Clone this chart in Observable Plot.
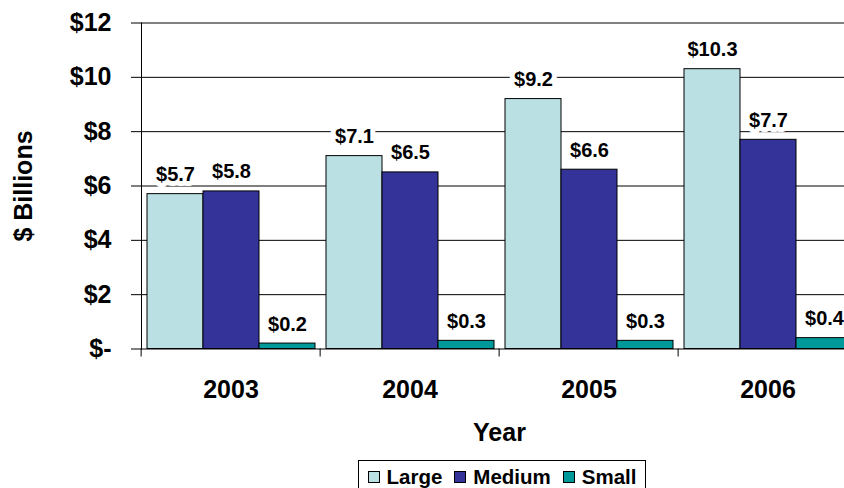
<!DOCTYPE html>
<html><head><meta charset="utf-8">
<script src="https://cdn.jsdelivr.net/npm/d3@7"></script>
<script src="https://cdn.jsdelivr.net/npm/@observablehq/plot@0.6"></script>
<style>
html,body{margin:0;padding:0;background:#fff;overflow:hidden;}
#wrap{position:relative;width:844px;height:488px;overflow:hidden;background:#fff;}
#chart svg{max-width:none;}
#legend{position:absolute;left:358px;top:460px;width:288px;height:40px;box-sizing:border-box;border:1px solid #000;
  font-family:'Liberation Sans',Arial,Helvetica,sans-serif;font-weight:bold;font-size:20.5px;line-height:20px;color:#000;
  display:flex;align-items:flex-start;justify-content:center;gap:12px;padding-top:6px;}
#legend .item{display:flex;align-items:center;gap:7px;}
#legend .sw{display:inline-block;width:12px;height:12px;box-sizing:border-box;border:1px solid #000;}
</style></head>
<body><div id="wrap"><div id="chart"></div><div id="legend"></div></div>
<script>
const years = ["2003", "2004", "2005", "2006"];
const sizes = ["Large", "Medium", "Small"];
const large = [5.7, 7.1, 9.2, 10.3];
const medium = [5.8, 6.5, 6.6, 7.7];
const small = [0.2, 0.3, 0.3, 0.4];
const colors = ["#BBE0E3", "#333399", "#009999"];
const yTicks = [0, 2, 4, 6, 8, 10, 12];
const yTickLabels = ["$-", "$2", "$4", "$6", "$8", "$10", "$12"];

const series = [large, medium, small];
const data = years.flatMap((year, i) => sizes.map((size, j) => ({year, size, value: series[j][i]})));

const font = "'Liberation Sans', Arial, Helvetica, sans-serif";
const W = 858, H = 456;
const mLeft = 139, mTop = 22.5, yBase = 348.5;
const step = (W - mLeft) / years.length;

const chart = Plot.plot({
  width: W, height: H,
  marginLeft: mLeft, marginRight: 0, marginTop: mTop, marginBottom: H - yBase,
  style: {fontFamily: font, fontWeight: "bold", color: "#000", background: "#fff"},
  fx: {domain: years, paddingInner: 0, paddingOuter: 0, axis: null},
  x: {domain: sizes, paddingInner: 0, paddingOuter: 0.0885, axis: null},
  y: {domain: [0, 12], axis: null},
  color: {domain: sizes, range: colors},
  marks: [
    Plot.gridY(yTicks, {stroke: "#000", strokeOpacity: 1, strokeWidth: 1}),
    Plot.text(data, {fx: "year", x: "size", y: "value", text: d => "$" + d.value.toFixed(1),
      dy: -13, lineAnchor: "bottom", fontSize: 20, fill: "none", stroke: "#fff", strokeWidth: 10, strokeLinejoin: "round"}),
    Plot.barY(data, {fx: "year", x: "size", y: "value", fill: "size", stroke: "#000", strokeWidth: 1}),
    Plot.text(data, {fx: "year", x: "size", y: "value", text: d => "$" + d.value.toFixed(1),
      dy: -13, lineAnchor: "bottom", fontSize: 20, fill: "#000"}),
    Plot.frame({anchor: "left", facetAnchor: "left", stroke: "#000", strokeWidth: 1}),
    Plot.axisY(yTicks, {tickSize: 10, tickPadding: 20, fontSize: 25,
      tickFormat: d => yTickLabels[yTicks.indexOf(d)],
      label: "$ Billions", labelAnchor: "center", labelOffset: 127, labelArrow: "none"}),
    Plot.axisFx({anchor: "bottom", tickSize: 0, tickPadding: 31.5, fontSize: 25,
      label: "Year", labelAnchor: "center", labelOffset: 92, labelArrow: "none"}),
    Plot.axisFx({anchor: "bottom", tickSize: 8, tickFormat: () => "", label: null, dx: -step / 2})
  ]
});
document.getElementById("chart").appendChild(chart);

const legend = document.getElementById("legend");
legend.innerHTML = sizes.map((s, i) =>
  `<span class="item"><span class="sw" style="background:${colors[i]}"></span>${s}</span>`).join("");
</script>
</body></html>
